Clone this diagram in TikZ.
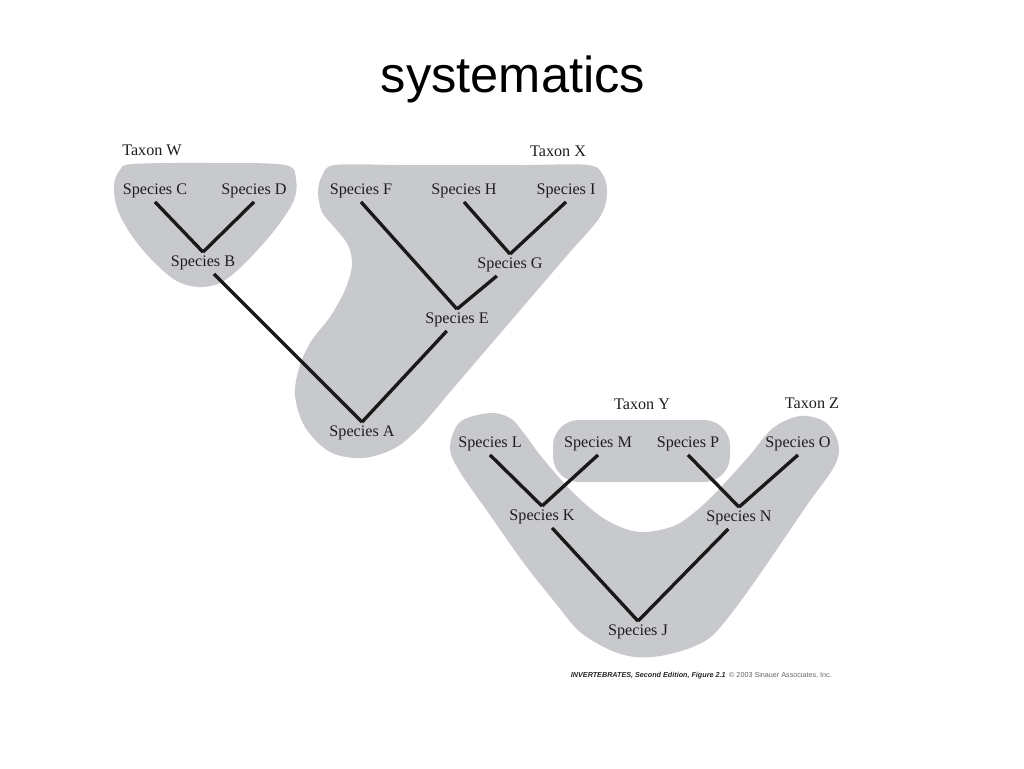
\documentclass[tikz,border=0pt]{standalone}
\usepackage{fontspec}
\setmainfont{Liberation Serif}
\newfontfamily\sansfont{Liberation Sans}
\usepackage{tikz}
\definecolor{blobgray}{RGB}{200,201,204}
\definecolor{inkgray}{RGB}{30,30,30}

\begin{document}
\begin{tikzpicture}[
  x=0.02cm, y=-0.02cm,
  sp/.style={inner sep=2pt, font=\fontsize{9.2}{11}\selectfont, text=inkgray},
  taxon/.style={inner sep=2pt, font=\fontsize{9.2}{11}\selectfont, text=inkgray},
  branch/.style={line width=1.9pt, draw=black!90},
  blob/.style={fill=blobgray, draw=none}
]
\useasboundingbox (0,0) rectangle (1024,768);
\fill[white] (0,0) rectangle (1024,768);

% titolo
\node[font=\sansfont\fontsize{28.8}{34}\selectfont, anchor=base] (title) at (513,92.7) {systematics};

% aree grigie
\fill[blob] plot[smooth cycle, tension=0.55] coordinates {
  (133,164) (210,163) (285,165) (296,180) (294,200) (280,223) (262,245)
  (240,268) (220,283) (198,287) (175,280) (150,258) (130,233) (117,208)
  (114,185) (120,170)};
\fill[blob] plot[smooth cycle, tension=0.55] coordinates {
  (335,165) (400,165) (460,165) (525,165) (588,165) (603,175) (607,193)
  (600,217) (570,252) (540,287) (510,322) (480,357) (450,392) (420,427)
  (395,448) (363,458) (330,452) (305,427) (295,395) (300,365) (312,340)
  (330,317) (345,290) (352,265) (348,245) (335,228) (322,212) (318,192)
  (322,176)};
\fill[blob] plot[smooth cycle, tension=0.55] coordinates {
  (490,413) (510,418) (523,432) (540,455) (563,482) (583,502) (603,518)
  (623,528) (640,532) (660,530) (680,523) (703,505) (723,485) (750,455)
  (773,428) (800,416) (825,422) (838,442) (835,465) (807,505) (773,555)
  (740,602) (713,635) (690,648) (660,656) (635,657) (610,650) (580,632)
  (557,605) (523,562) (490,515) (460,472) (450,448) (460,422)};
\fill[blob, rounded corners=0.52cm] (553,420) rectangle (730,482);

% taxa
\node[taxon] (taxW) at (152,150) {Taxon W};
\node[taxon] (taxX) at (558,151) {Taxon X};
\node[taxon] (taxY) at (642,404) {Taxon Y};
\node[taxon] (taxZ) at (812,403) {Taxon Z};

% specie
\node[sp] (spC) at (155,191) {Species C};
\node[sp] (spD) at (254,191) {Species D};
\node[sp] (spF) at (361,191) {Species F};
\node[sp] (spH) at (464,191) {Species H};
\node[sp] (spI) at (566,191) {Species I};
\node[sp] (spB) at (203,263) {Species B};
\node[sp] (spG) at (510,265) {Species G};
\node[sp] (spE) at (457,320) {Species E};
\node[sp] (spA) at (362,433) {Species A};
\node[sp] (spL) at (490,444) {Species L};
\node[sp] (spM) at (598,444) {Species M};
\node[sp] (spP) at (688,444) {Species P};
\node[sp] (spO) at (798,444) {Species O};
\node[sp] (spK) at (542,517) {Species K};
\node[sp] (spN) at (739,518) {Species N};
\node[sp] (spJ) at (638,632) {Species J};

% rami
\draw[branch] (spC.south) -- (spB.north);
\draw[branch] (spD.south) -- (spB.north);
\draw[branch] (spB) -- (spA.north);
\draw[branch] (spH.south) -- (spG.north);
\draw[branch] (spI.south) -- (spG.north);
\draw[branch] (spF.south) -- (spE.north);
\draw[branch] (spG) -- (spE.north);
\draw[branch] (spE) -- (spA.north);
\draw[branch] (spL.south) -- (spK.north);
\draw[branch] (spM.south) -- (spK.north);
\draw[branch] (spP.south) -- (spN.north);
\draw[branch] (spO.south) -- (spN.north);
\draw[branch] (spK) -- (spJ.north);
\draw[branch] (spN) -- (spJ.north);

% fonte
\node[anchor=east, font=\sansfont\fontsize{4.1}{5}\selectfont, text=black!85] (credit) at (838,676)
  {\textbf{\textit{INVERTEBRATES, Second Edition, Figure 2.1}}\enspace{\color{black!60}© 2003 Sinauer Associates, Inc.}};
\end{tikzpicture}
\end{document}
